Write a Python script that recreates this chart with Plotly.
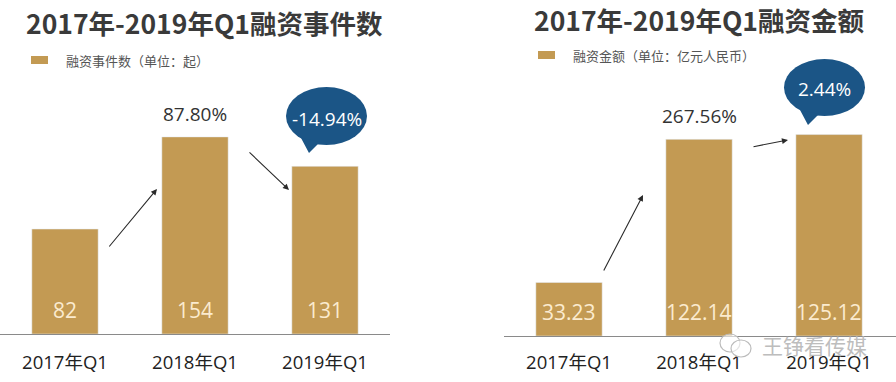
import plotly.graph_objects as go

categories = ["2017年Q1", "2018年Q1", "2019年Q1"]
events = [82, 154, 131]
events_text = ["82", "154", "131"]
events_growth = ["", "87.80%", "-14.94%"]
amounts = [33.23, 122.14, 125.12]
amounts_text = ["33.23", "122.14", "125.12"]
amounts_growth = ["", "267.56%", "2.44%"]

title_left = "2017年-2019年Q1融资事件数"
title_right = "2017年-2019年Q1融资金额"
legend_left = "融资事件数（单位：起）"
legend_right = "融资金额（单位：亿元人民币）"
watermark = "王铮看传媒"

W, H = 896, 382
BAR = "#C39A53"
BLUE = "#1B5586"
FONT = "Open Sans, Noto Sans CJK SC, sans-serif"
CJK = "Noto Sans CJK SC, sans-serif"

def px(x):
    return x / W

def py(y):
    return 1 - y / H

fig = go.Figure()
fig.add_trace(go.Bar(x=categories, y=events, marker_color=BAR, width=0.51,
                     xaxis="x", yaxis="y", hoverinfo="skip"))
fig.add_trace(go.Bar(x=categories, y=amounts, marker_color=BAR, width=0.51,
                     xaxis="x2", yaxis="y2", hoverinfo="skip"))

ann = []
shapes = []

for xa, ya, vals, txts, growth in [("x", "y", events, events_text, events_growth),
                                    ("x2", "y2", amounts, amounts_text, amounts_growth)]:
    for i, (c, v, t) in enumerate(zip(categories, vals, txts)):
        ann.append(dict(x=c, y=0, xref=xa, yref=ya, text=t, showarrow=False,
                        xanchor="center", yanchor="bottom", yshift=8,
                        font=dict(family=FONT, size=21, color="#FBEBCF")))
    ann.append(dict(x=categories[1], y=vals[1], xref=xa, yref=ya, text=growth[1],
                    showarrow=False, xanchor="center", yanchor="bottom", yshift=8,
                    font=dict(family=FONT, size=19, color="#333333")))

# speech bubbles in pixel coordinates
bubbles = [
    (286, 87, 367, 145, [(301, 138), (320, 142), (309, 153)], events_growth[2], 119),
    (784, 59, 865, 116, [(800, 110), (819, 114), (808, 125)], amounts_growth[2], 89),
]
for x0, y0, x1, y1, tail, txt, ty in bubbles:
    shapes.append(dict(type="circle", xref="paper", yref="paper", layer="below",
                       x0=px(x0), x1=px(x1), y0=py(y1), y1=py(y0),
                       fillcolor=BLUE, line=dict(width=0)))
    path = "M {} {} L {} {} L {} {} Z".format(
        px(tail[0][0]), py(tail[0][1]), px(tail[1][0]), py(tail[1][1]),
        px(tail[2][0]), py(tail[2][1]))
    shapes.append(dict(type="path", xref="paper", yref="paper", path=path, layer="below",
                       fillcolor=BLUE, line=dict(width=0)))
    ann.append(dict(x=px((x0 + x1) / 2), y=py(ty), xref="paper", yref="paper",
                    text=txt, showarrow=False, xanchor="center", yanchor="middle",
                    font=dict(family=FONT, size=19, color="white")))

arrows = [((108, 248), (157, 189)), ((248, 151), (289, 190)),
          ((603, 272), (643, 195)), ((752, 147), (788, 140))]
for (tx, ty), (hx, hy) in arrows:
    ann.append(dict(x=px(hx), y=py(hy), xref="paper", yref="paper",
                    ax=tx - hx, ay=ty - hy, axref="pixel", ayref="pixel",
                    showarrow=True, arrowhead=2, arrowsize=1.1, arrowwidth=1.1,
                    arrowcolor="#2a2a2a", text=""))

ann.append(dict(x=px(24), y=py(22), xref="paper", yref="paper", text="<b>" + title_left + "</b>",
                showarrow=False, xanchor="left", yanchor="middle",
                font=dict(family=CJK, size=26.5, color="#3a3a3a")))
ann.append(dict(x=px(532), y=py(20), xref="paper", yref="paper", text="<b>" + title_right + "</b>",
                showarrow=False, xanchor="left", yanchor="middle",
                font=dict(family=CJK, size=26.5, color="#3a3a3a")))

for sx, sy, tx, txt in [(31, 60, 64, legend_left), (538, 55, 571, legend_right)]:
    shapes.append(dict(type="rect", xref="paper", yref="paper",
                       x0=px(sx), x1=px(sx + 17), y0=py(sy + 4), y1=py(sy - 4),
                       fillcolor=BAR, line=dict(width=0)))
    ann.append(dict(x=px(tx), y=py(sy), xref="paper", yref="paper", text=txt,
                    showarrow=False, xanchor="left", yanchor="middle",
                    font=dict(family=CJK, size=13, color="#555555")))

shapes.append(dict(type="circle", xref="paper", yref="paper",
                   x0=px(720), x1=px(740), y0=py(352), y1=py(334),
                   line=dict(color="#bbbbbb", width=1.2), fillcolor="rgba(255,255,255,0.6)"))
shapes.append(dict(type="circle", xref="paper", yref="paper",
                   x0=px(731), x1=px(751), y0=py(357), y1=py(340),
                   line=dict(color="#bbbbbb", width=1.2), fillcolor="rgba(255,255,255,0.6)"))
ann.append(dict(x=px(760), y=py(345), xref="paper", yref="paper", text=watermark,
                showarrow=False, xanchor="left", yanchor="middle",
                font=dict(family=CJK, size=21, color="#bdbdbd")))

axis_common = dict(showgrid=False, zeroline=False, ticks="", showline=True,
                   linecolor="#8a8a8a", linewidth=1,
                   tickfont=dict(family=FONT, size=18.5, color="#222222"))

fig.update_layout(
    width=W, height=H, margin=dict(l=0, r=0, t=0, b=0),
    paper_bgcolor="white", plot_bgcolor="rgba(0,0,0,0)", showlegend=False,
    xaxis=dict(domain=[0, px(390)], range=[-0.5, 2.5], anchor="y",
               ticklabelstandoff=12, **axis_common),
    xaxis2=dict(domain=[px(504), 1], range=[-0.5, 2.515], anchor="y2",
                ticklabelstandoff=10, **axis_common),
    yaxis=dict(domain=[48 / H, 1], range=[0, 334 / 1.28], visible=False),
    yaxis2=dict(domain=[46 / H, 1], range=[0, 336 / 1.61], visible=False),
    annotations=ann, shapes=shapes,
)

fig.write_html("out.html", config={"displayModeBar": False},
               post_script="document.body.style.margin='0';document.documentElement.style.overflow='hidden';")
